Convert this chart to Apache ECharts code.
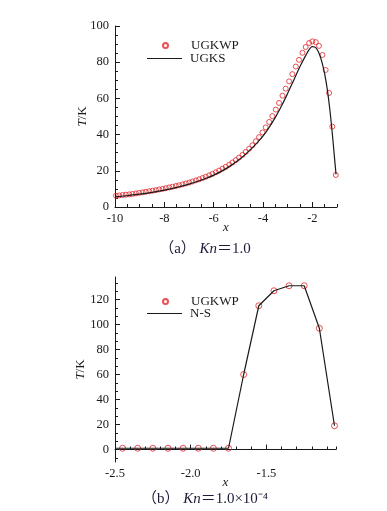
<!DOCTYPE html>
<html>
<head>
<meta charset="utf-8">
<script src="https://cdn.jsdelivr.net/npm/echarts@6/dist/echarts.min.js"></script>
<style>
  html, body { margin: 0; padding: 0; background: #fff; }
  #chart { width: 387px; height: 511px; }
</style>
</head>
<body>
<div id="chart"></div>
<script>
// (a) Kn = 1.0
const ugkwpX = [-9.96, -9.83, -9.69, -9.56, -9.42, -9.29, -9.15, -9.02, -8.88, -8.75,
  -8.61, -8.48, -8.34, -8.21, -8.07, -7.94, -7.80, -7.67, -7.53, -7.40,
  -7.26, -7.13, -6.99, -6.86, -6.72, -6.59, -6.45, -6.32, -6.18, -6.05,
  -5.91, -5.78, -5.64, -5.51, -5.37, -5.24, -5.10, -4.97, -4.83, -4.70,
  -4.56, -4.43, -4.29, -4.16, -4.02, -3.89, -3.75, -3.62, -3.48, -3.35,
  -3.21, -3.08, -2.94, -2.81, -2.67, -2.54, -2.40, -2.27, -2.13, -2.00,
  -1.86, -1.73, -1.59, -1.46, -1.32, -1.19, -1.05]
const ugkwpT = [6.2, 6.4, 6.6, 6.8, 7.0, 7.2, 7.5, 7.8, 8.1, 8.4,
  8.7, 9.0, 9.3, 9.7, 10.0, 10.4, 10.8, 11.2, 11.6, 12.0,
  12.5, 13.0, 13.5, 14.1, 14.7, 15.3, 16.0, 16.7, 17.5, 18.3,
  19.2, 20.1, 21.2, 22.2, 23.4, 24.6, 25.9, 27.3, 28.8, 30.4,
  32.2, 34.1, 36.3, 38.6, 41.2, 44.0, 47.0, 50.2, 53.8, 57.5,
  61.5, 65.4, 69.4, 73.4, 77.6, 81.3, 85.2, 88.4, 90.6, 91.5,
  91.1, 89.0, 84.0, 75.7, 63.0, 44.4, 17.7]
const ugksX = [-10, -9.5, -9, -8.5, -8, -7.5, -7, -6.5, -6, -5.5, -5, -4.5, -4, -3.75, -3.5, -3.25,
  -3, -2.75, -2.5, -2.25, -2.1, -2.0, -1.9, -1.8, -1.7, -1.6, -1.5, -1.4, -1.3, -1.2, -1.1, -1.04]
const ugksT = [5.6, 6.3, 7.1, 8.1, 9.3, 10.8, 12.6, 14.9, 17.6, 21.2, 25.8, 31.8, 39.2, 44, 49.5, 55.8,
  62.8, 70.2, 77.6, 84.2, 87.5, 88.6, 88.4, 86.9, 84, 79.5, 73.5, 65.5, 55, 42, 27, 18]

// (b) Kn = 1.0e-4
const ugkwpX2 = [-2.45, -2.35, -2.25, -2.15, -2.05, -1.95, -1.85, -1.75, -1.65, -1.55, -1.45, -1.35, -1.25, -1.15, -1.05]
const ugkwpT2 = [1, 1, 1, 1, 1, 1, 1, 1, 60, 115, 127, 131, 131, 97, 19]
const nsX = [-2.5, -2.45, -2.35, -2.25, -2.15, -2.05, -1.95, -1.85, -1.75, -1.65, -1.55, -1.45, -1.35, -1.25, -1.15, -1.05]
const nsT = [1, 1, 1, 1, 1, 1, 1, 1, 1, 60, 115, 127, 131, 131, 97, 19]

const topXLabels = [-10, -8, -6, -4, -2]
const botXLabels = [-2.5, -2.0, -1.5]
const botYLabels = [0, 20, 40, 60, 80, 100, 120]

const serif = '"Liberation Serif", "Times New Roman", serif'
const red = '#e2262b'
const ink = '#1a1a1a'
const zip = (xs, ys) => xs.map((x, i) => [x, ys[i]])

// minor tick positions for panel (b) y axis (3 steps per 20)
const botYMinor = []
for (let k = -1; k <= 20; k++) {
  const v = k * 20 / 3
  if (k % 3 !== 0 && v <= 138) botYMinor.push(v)
}

const labelStyle = { color: ink, fontFamily: serif, fontSize: 12.5 }
const nameStyle = {
  color: ink, fontFamily: serif, fontSize: 13,
  rich: { i: { fontStyle: 'italic', fontFamily: serif, fontSize: 13, color: ink } }
}

const majorAxis = (extra) => Object.assign({
  type: 'value',
  nameMoveOverlap: false,
  axisLine: { show: true, lineStyle: { color: ink, width: 1 } },
  axisTick: { show: true, inside: true, length: 5, lineStyle: { color: ink } },
  axisLabel: Object.assign({ margin: 6 }, labelStyle),
  splitLine: { show: false }
}, extra)

const minorAxis = (extra) => Object.assign({
  type: 'value',
  axisLine: { show: false },
  axisTick: { show: true, inside: true, length: 3, lineStyle: { color: ink } },
  axisLabel: { show: false },
  splitLine: { show: false }
}, extra)

// one legend per entry so the rows sit as tight as in the figure;
// icons are 35x5 paths (the move-to corners set the box, the ring sits in the middle)
const lineIcon = 'path://M0,0H35V1.1H0Z'
const ringIcon = 'path://M0,0M35,5M15,2.5a2.5,2.5 0 1,0 5,0a2.5,2.5 0 1,0 -5,0Z'
const legendItem = (name, icon, top) => ({
  data: [{ name: name, icon: icon }], orient: 'vertical', top: top, left: 147, padding: 0,
  itemWidth: 35, itemHeight: 5,
  textStyle: { color: ink, fontFamily: serif, fontSize: 13, padding: [0, 0, 0, 3] }
})

const captionStyle = {
  color: '#1c1c3a', fontFamily: '"Liberation Serif", "Noto Sans CJK SC", serif', fontSize: 15, fontWeight: 'normal',
  rich: { i: { fontStyle: 'italic', fontFamily: serif, fontSize: 15, color: '#1c1c3a' } }
}

const chart = echarts.init(document.getElementById('chart'))

chart.setOption({
  animation: false,
  backgroundColor: '#fff',
  grid: [
    { left: 115, top: 26, width: 222, height: 181 },
    { left: 115, top: 277, width: 221, height: 185 }
  ],
  xAxis: [
    majorAxis({
      gridIndex: 0, position: 'bottom', min: -10, max: -1,
      name: 'x', nameLocation: 'middle', nameGap: 14,
      nameTextStyle: Object.assign({}, nameStyle, { fontStyle: 'italic' }),
      axisTick: { show: true, inside: true, length: 5, lineStyle: { color: ink }, customValues: topXLabels },
      axisLabel: Object.assign({ margin: 5, customValues: topXLabels }, labelStyle)
    }),
    minorAxis({ gridIndex: 0, position: 'bottom', min: -10, max: -1, interval: 0.5 }),
    majorAxis({
      gridIndex: 1, position: 'bottom', min: -2.5, max: -1.04,
      name: 'x', nameLocation: 'middle', nameGap: 14,
      nameTextStyle: Object.assign({}, nameStyle, { fontStyle: 'italic' }),
      axisTick: { show: true, inside: true, length: 5, lineStyle: { color: ink }, customValues: botXLabels },
      axisLabel: Object.assign({ margin: 5, customValues: botXLabels, formatter: v => v.toFixed(1) }, labelStyle)
    }),
    minorAxis({ gridIndex: 1, position: 'bottom', min: -2.5, max: -1.04, interval: 0.1 })
  ],
  yAxis: [
    majorAxis({
      gridIndex: 0, position: 'left', min: 0, max: 100, interval: 20,
      name: '{i|T}/K', nameLocation: 'middle', nameRotate: 90, nameGap: 26,
      nameTextStyle: nameStyle,
      minorTick: { show: true, splitNumber: 4, length: 3, lineStyle: { color: ink } }
    }),
    majorAxis({
      gridIndex: 1, position: 'left', min: -10, max: 138,
      name: '{i|T}/K', nameLocation: 'middle', nameRotate: 90, nameGap: 28,
      nameTextStyle: nameStyle,
      axisTick: { show: true, inside: true, length: 5, lineStyle: { color: ink }, customValues: botYLabels },
      axisLabel: Object.assign({ margin: 6, customValues: botYLabels }, labelStyle)
    }),
    minorAxis({
      gridIndex: 1, position: 'left', min: -10, max: 138,
      axisTick: { show: true, inside: true, length: 3, lineStyle: { color: ink }, customValues: botYMinor }
    })
  ],
  legend: [
    legendItem('UGKWP', ringIcon, 39),
    legendItem('UGKS', lineIcon, 52),
    legendItem('UGKWP', ringIcon, 295),
    legendItem('N-S', lineIcon, 307)
  ],
  title: [
    { text: '（a） {i|Kn}＝1.0', left: 200, top: 237, textAlign: 'center', textStyle: captionStyle },
    { text: '（b） {i|Kn}＝1.0×10⁻⁴', left: 200, top: 487, textAlign: 'center', textStyle: captionStyle }
  ],
  series: [
    {
      name: 'UGKS', type: 'line', xAxisIndex: 0, yAxisIndex: 0,
      data: zip(ugksX, ugksT), smooth: 0.4, symbol: 'none',
      lineStyle: { color: ink, width: 1.2 }, itemStyle: { color: ink }
    },
    {
      name: 'UGKWP', type: 'scatter', xAxisIndex: 0, yAxisIndex: 0,
      data: zip(ugkwpX, ugkwpT), symbol: 'circle', symbolSize: 5,
      itemStyle: { color: 'rgba(0,0,0,0)', borderColor: red, borderWidth: 1 }
    },
    {
      name: 'N-S', type: 'line', xAxisIndex: 2, yAxisIndex: 1,
      data: zip(nsX, nsT), symbol: 'none',
      lineStyle: { color: ink, width: 1.2 }, itemStyle: { color: ink }
    },
    {
      name: 'UGKWP', type: 'scatter', xAxisIndex: 2, yAxisIndex: 1,
      data: zip(ugkwpX2, ugkwpT2), symbol: 'circle', symbolSize: 6,
      itemStyle: { color: 'rgba(0,0,0,0)', borderColor: red, borderWidth: 1 }
    }
  ]
})
</script>
</body>
</html>
